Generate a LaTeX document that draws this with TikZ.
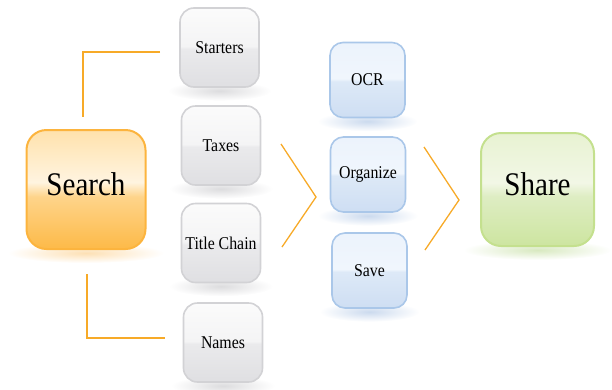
\documentclass[tikz,border=0pt]{standalone}
\usepackage{fontspec}
\setmainfont{Liberation Serif}[FakeStretch=0.88]
\usetikzlibrary{backgrounds}

\definecolor{linkorange}{RGB}{247,170,40}
% grey boxes
\definecolor{grayedge}{RGB}{210,210,213}
\definecolor{graytop}{RGB}{251,251,251}
\definecolor{graylight}{RGB}{244,244,245}
\definecolor{graymid}{RGB}{234,234,236}
\definecolor{graybot}{RGB}{223,223,226}
\definecolor{shgray}{RGB}{220,220,222}
% blue boxes
\definecolor{blueedge}{RGB}{170,199,233}
\definecolor{bluetop}{RGB}{236,243,252}
\definecolor{bluelight}{RGB}{240,246,253}
\definecolor{bluemid}{RGB}{221,233,247}
\definecolor{bluebot}{RGB}{206,222,243}
\definecolor{shblue}{RGB}{203,218,238}
% search
\definecolor{orangeedge}{RGB}{252,180,62}
\definecolor{orangetop}{RGB}{255,226,172}
\definecolor{orangelight}{RGB}{255,244,224}
\definecolor{orangemid}{RGB}{254,212,138}
\definecolor{orangebot}{RGB}{253,186,72}
\definecolor{shorange}{RGB}{253,224,180}
% share
\definecolor{greenedge}{RGB}{196,224,142}
\definecolor{greentop}{RGB}{232,242,210}
\definecolor{greenlight}{RGB}{242,247,230}
\definecolor{greenmid}{RGB}{222,237,195}
\definecolor{greenbot}{RGB}{205,229,160}
\definecolor{shgreen}{RGB}{216,233,192}

\pgfdeclareverticalshading{glossgray}{100bp}{color(0bp)=(graybot); color(25bp)=(graybot); color(49bp)=(graymid); color(51bp)=(graylight); color(75bp)=(graytop); color(100bp)=(graytop)}
\pgfdeclareverticalshading{glossblue}{100bp}{color(0bp)=(bluebot); color(25bp)=(bluebot); color(49bp)=(bluemid); color(51bp)=(bluelight); color(75bp)=(bluetop); color(100bp)=(bluetop)}
\pgfdeclareverticalshading{glossorange}{100bp}{color(0bp)=(orangebot); color(25bp)=(orangebot); color(47bp)=(orangemid); color(53bp)=(orangelight); color(75bp)=(orangetop); color(100bp)=(orangetop)}
\pgfdeclareverticalshading{glossgreen}{100bp}{color(0bp)=(greenbot); color(25bp)=(greenbot); color(47bp)=(greenmid); color(53bp)=(greenlight); color(75bp)=(greentop); color(100bp)=(greentop)}

\begin{document}
\begin{tikzpicture}[x=1pt,y=-1pt,
		link/.style={draw=linkorange,line width=1.3pt},
		smallbox/.style={rectangle,rounded corners=14pt,line width=1.6pt,
			minimum width=79pt,minimum height=79pt,inner sep=0pt,
			font=\fontsize{18}{21}\selectfont},
		bigbox/.style={rectangle,rounded corners=20pt,line width=2pt,
			minimum width=119pt,minimum height=119pt,inner sep=0pt,text depth=10pt,
			font=\fontsize{33}{38}\selectfont}]
	\useasboundingbox (0,0) rectangle (612,389);

	\node[bigbox,draw=orangeedge,shading=glossorange] (search) at (86,189.5) {Search};
	\node[bigbox,draw=greenedge,shading=glossgreen,minimum width=113pt,minimum height=113pt] (share) at (537.5,189.5) {Share};

	\begin{scope}[every node/.style={smallbox,draw=grayedge,shading=glossgray}]
		\node (starters) at (219.5,47.5) {Starters};
		\node (taxes) at (221,145.5) {Taxes};
		\node (titlechain) at (221,243) {Title Chain};
		\node (names) at (223,342.5) {Names};
	\end{scope}

	\begin{scope}[every node/.style={smallbox,draw=blueedge,shading=glossblue,
			minimum width=75pt,minimum height=75pt,rounded corners=13pt}]
		\node (ocr) at (367.5,80) {OCR};
		\node (organize) at (368,174.5) {Organize};
		\node (save) at (369.5,270.5) {Save};
	\end{scope}

	% soft shadows under the boxes
	\begin{scope}[on background layer]
		\foreach \n/\c/\w in {starters/gray/52,taxes/gray/52,titlechain/gray/52,names/gray/52,
				ocr/blue/50,organize/blue/50,save/blue/50,search/orange/78,share/green/74}
			\shade[inner color=sh\c,outer color=white] ([yshift=-3pt]\n.south) ellipse (\w pt and 10pt);
	\end{scope}

	\coordinate (c1a) at (281,144);
	\coordinate (c1b) at (316,197);
	\coordinate (c1c) at (282,247);
	\coordinate (c2a) at (424,147);
	\coordinate (c2b) at (459,200);
	\coordinate (c2c) at (425,250);

	\draw[link] ([xshift=-19pt,yshift=-4.5pt]starters.west) -| ([xshift=-3pt,yshift=12pt]search.north);
	\draw[link] ([xshift=1pt,yshift=-24pt]search.south) |- ([xshift=-18pt,yshift=4.5pt]names.west);
	\draw[link] (c1a) -- (c1b) -- (c1c);
	\draw[link] (c2a) -- (c2b) -- (c2c);
\end{tikzpicture}
\end{document}
